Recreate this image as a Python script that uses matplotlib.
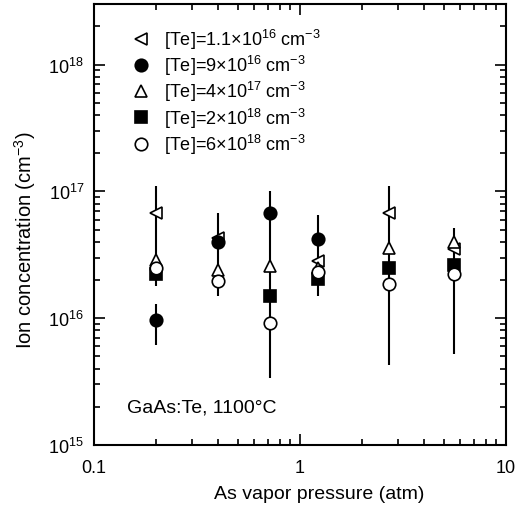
import numpy as np
import matplotlib.pyplot as plt
from matplotlib.ticker import LogLocator, NullFormatter

plt.rcParams['font.family'] = ['Liberation Sans', 'DejaVu Sans']
plt.rcParams['mathtext.fontset'] = 'custom'
plt.rcParams['mathtext.rm'] = 'Liberation Sans'
plt.rcParams['mathtext.it'] = 'Liberation Sans:italic'

# As vapor pressure (atm) for each sample group
pressure = [0.2, 0.4, 0.72, 1.22, 2.7, 5.6]

# ion concentration (cm^-3) per Te doping level, nan = no point
te_11e16 = [6.8e16, 4.3e16, np.nan, 2.8e16, 6.8e16, 3.5e16]
te_9e16 = [9.6e15, 4.0e16, 6.7e16, 4.2e16, np.nan, np.nan]
te_4e17 = [2.9e16, 2.4e16, 2.6e16, 2.5e16, 3.6e16, 4.0e16]
te_2e18 = [2.25e16, np.nan, 1.5e16, 2.05e16, 2.5e16, 2.65e16]
te_6e18 = [2.5e16, 1.95e16, 9.1e15, 2.3e16, 1.85e16, 2.25e16]

# error bar segments
bar_x = [0.2, 0.2, 0.4, 0.72, 1.22, 2.7, 5.6]
bar_lo = [1.8e16, 6.2e15, 1.5e16, 3.4e15, 1.5e16, 4.3e15, 5.2e15]
bar_hi = [1.1e17, 1.3e16, 6.8e16, 1.0e17, 6.5e16, 1.1e17, 5.1e16]

labels = [r'[Te]=1.1$\times$10$^{16}$ cm$^{-3}$',
          r'[Te]=9$\times$10$^{16}$ cm$^{-3}$',
          r'[Te]=4$\times$10$^{17}$ cm$^{-3}$',
          r'[Te]=2$\times$10$^{18}$ cm$^{-3}$',
          r'[Te]=6$\times$10$^{18}$ cm$^{-3}$']

fig = plt.figure(figsize=(5.27, 5.10), dpi=100)
ax = fig.add_axes([0.178, 0.1255, 0.782, 0.8645])

ax.vlines(bar_x, bar_lo, bar_hi, colors='black', linewidth=1.5, zorder=1)

styles = [('<', 'white'), ('o', 'black'), ('^', 'white'), ('s', 'black'), ('o', 'white')]
series = [te_11e16, te_9e16, te_4e17, te_2e18, te_6e18]
for vals, (m, fc), lab in zip(series, styles, labels):
    ax.plot(pressure, vals, linestyle='none', marker=m, markersize=9,
            markerfacecolor=fc, markeredgecolor='black', markeredgewidth=1.2,
            label=lab, zorder=3)

ax.set_xscale('log')
ax.set_yscale('log')
ax.set_xlim(0.1, 10)
ax.set_ylim(1e15, 3e18)
ax.set_xticks([0.1, 1, 10])
ax.set_xticklabels(['0.1', '1', '10'])
ax.yaxis.set_major_locator(LogLocator(base=10, numticks=10))
ax.yaxis.set_minor_locator(LogLocator(base=10, subs=np.arange(2, 10), numticks=20))
ax.xaxis.set_minor_locator(LogLocator(base=10, subs=np.arange(2, 10), numticks=20))
ax.xaxis.set_minor_formatter(NullFormatter())
ax.yaxis.set_minor_formatter(NullFormatter())
ax.tick_params(which='both', direction='in', top=True, right=True, labelsize=13, width=1.2)
ax.tick_params(which='major', length=8, pad=7)
ax.tick_params(axis='x', which='major', pad=10)
ax.tick_params(which='minor', length=4)
for s in ax.spines.values():
    s.set_linewidth(1.5)

ax.set_xlabel('As vapor pressure (atm)', fontsize=14)
ax.set_ylabel('Ion concentration (cm$^{-3}$)', fontsize=14.5)
ax.xaxis.set_label_coords(0.548, -0.09)
ax.yaxis.set_label_coords(-0.135, 0.467)
ax.text(0.08, 0.075, 'GaAs:Te, 1100\u00b0C', transform=ax.transAxes, fontsize=14)

ax.legend(loc='upper left', bbox_to_anchor=(0.053, 0.965), frameon=False,
          fontsize=13, handletextpad=0.3, labelspacing=0.12, borderaxespad=0)

fig.savefig('out.png', dpi=100)
